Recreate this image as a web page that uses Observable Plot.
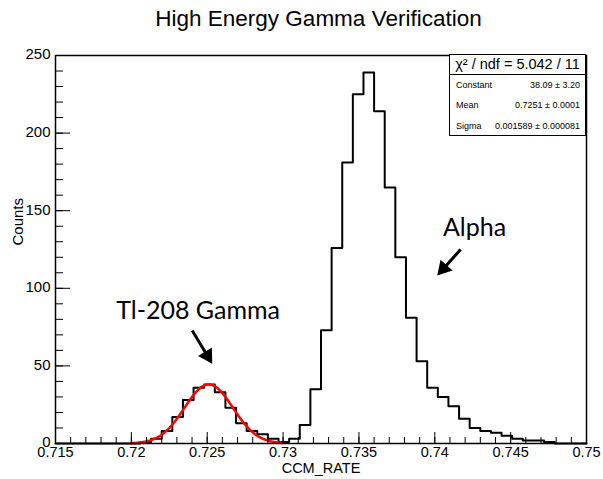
<!DOCTYPE html>
<html><head><meta charset="utf-8">
<script src="https://cdn.jsdelivr.net/npm/d3@7"></script>
<script src="https://cdn.jsdelivr.net/npm/@observablehq/plot@0.6"></script>
<style>
body{margin:0;background:#fff;}
#wrap{position:relative;width:603px;height:479px;font-family:"Liberation Sans",Arial,Helvetica,sans-serif;color:#000;overflow:hidden;}
#title{box-sizing:border-box;width:603px;height:40px;padding-top:8px;padding-left:34px;text-align:center;font-size:22.5px;line-height:22px;}
#chart svg{display:block;}
#stats{position:absolute;left:449px;top:54px;width:137px;height:82px;box-sizing:border-box;border:1px solid #000;background:#fff;}
#stats .head{height:19px;line-height:19px;border-bottom:1px solid #000;text-align:center;font-size:14.5px;}
#stats .row{display:flex;justify-content:space-between;height:20.3px;line-height:20.3px;font-size:9px;padding:0 5px 0 6px;}
</style></head><body>
<div id="wrap">
  <div id="title"></div>
  <div id="chart"></div>
  <div id="stats"></div>
</div>
<script>
// ---- data ----
const titleText = "High Energy Gamma Verification";
const xLabel = "CCM_RATE";
const yLabel = "Counts";
const binLow = 0.715;
const binWidth = 0.0007;
const counts = [
  0, 0, 0, 0, 0, 0, 0, 0, 1, 3,
  8, 17, 28, 36, 38, 33, 23, 13, 8, 6,
  3, 1, 3, 12, 35, 73, 126, 181, 225, 239,
  214, 165, 120, 81, 53, 36, 30, 24, 16, 10,
  8, 7, 5, 3, 2, 2, 1, 0, 0, 0
];
const fitConstant = 38.09;
const fitMean = 0.7251;
const fitSigma = 0.001589;
const fitRange = [0.72, 0.73];
const xDomain = [0.715, 0.75];
const yDomain = [0, 250];
const xMajorTicks = [0.715, 0.72, 0.725, 0.73, 0.735, 0.74, 0.745, 0.75];
const yMajorTicks = [0, 50, 100, 150, 200, 250];
const xMinorTicks = d3.range(0.715, 0.7505, 0.001);
const yMinorTicks = d3.range(0, 251, 10);
const statsHead = "χ² / ndf = 5.042 / 11";
const statsLabels = ["Constant", "Mean", "Sigma"];
const statsValues = ["38.09 ± 3.20", "0.7251 ± 0.0001", "0.001589 ± 0.000081"];
const annotationTexts = [
  {text: "Tl-208 Gamma", x: 0.7244, y: 80.5},
  {text: "Alpha", x: 0.74262, y: 134}
];
const annotationArrows = [
  {x1: 0.72401, y1: 72.8, x2: 0.72533, y2: 51.4},
  {x1: 0.74170, y1: 125, x2: 0.74016, y2: 108.2}
];

// ---- layout ----
const W = 603, H = 439, mL = 55, mR = 17, mT = 15, mB = 36;
const innerW = W - mL - mR, innerH = H - mT - mB;
const headR = 6;

// ---- derived tables ----
const histData = counts.map((c, i) => ({x: binLow + i * binWidth, y: c}));
histData.push({x: binLow + counts.length * binWidth, y: counts[counts.length - 1]});
const fitData = d3.range(0, 201).map(k => {
  const x = fitRange[0] + (fitRange[1] - fitRange[0]) * k / 200;
  return {x, y: fitConstant * Math.exp(-0.5 * ((x - fitMean) / fitSigma) ** 2)};
});
const kx = innerW / (xDomain[1] - xDomain[0]);
const ky = innerH / (yDomain[1] - yDomain[0]);
const arrowHeads = annotationArrows.map(a => {
  const px = (a.x2 - a.x1) * kx, py = -(a.y2 - a.y1) * ky;
  const len = Math.hypot(px, py);
  const ux = px / len, uy = py / len;
  const off = 1.555 * headR;
  return {
    ...a,
    cx: a.x2 - ux * off / kx,
    cy: a.y2 + uy * off / ky,
    angle: Math.atan2(ux, -uy) * 180 / Math.PI
  };
});

document.getElementById("title").textContent = titleText;

const chart = Plot.plot({
  width: W, height: H,
  marginLeft: mL, marginRight: mR, marginTop: mT, marginBottom: mB,
  style: {fontFamily: '"Liberation Sans", Arial, Helvetica, sans-serif', fontSize: "15px", color: "#000", background: "#fff"},
  x: {domain: xDomain},
  y: {domain: yDomain},
  marks: [
    Plot.line(histData, {x: "x", y: "y", curve: "step-after", stroke: "#000", strokeWidth: 2}),
    Plot.line(fitData, {x: "x", y: "y", stroke: "#ff0000", strokeWidth: 2.5}),
    Plot.tickX(xMinorTicks, {x: d => d, insetTop: innerH - 6, stroke: "#000", strokeWidth: 1}),
    Plot.tickX(xMajorTicks, {x: d => d, insetTop: innerH - 11, stroke: "#000", strokeWidth: 1}),
    Plot.tickY(yMinorTicks, {y: d => d, insetRight: innerW - 8, stroke: "#000", strokeWidth: 1}),
    Plot.tickY(yMajorTicks, {y: d => d, insetRight: innerW - 15, stroke: "#000", strokeWidth: 1}),
    Plot.frame({stroke: "#000", strokeWidth: 1.5}),
    Plot.axisX({ticks: xMajorTicks, tickSize: 0, tickPadding: 3, tickFormat: d => String(d), fontSize: 14.5, label: null}),
    Plot.axisY({ticks: yMajorTicks, tickSize: 0, tickPadding: 5, tickFormat: d => String(d), fontSize: 15, label: null, dy: -1}),
    Plot.text([xLabel], {frameAnchor: "bottom", dy: 29, fontSize: 14.5}),
    Plot.text([yLabel], {frameAnchor: "left", rotate: -90, dx: -37, dy: -4, fontSize: 15}),
    Plot.text(annotationTexts, {x: "x", y: "y", text: "text", lineAnchor: "bottom", fontSize: 25, fontFamily: "Lato, 'Open Sans', sans-serif", fill: "#000"}),
    Plot.link(arrowHeads, {x1: "x1", y1: "y1", x2: "cx", y2: "cy", stroke: "#000", strokeWidth: 3}),
    Plot.dot(arrowHeads, {x: "cx", y: "cy", symbol: "triangle", r: headR, rotate: "angle", fill: "#000", stroke: "none"})
  ]
});
document.getElementById("chart").appendChild(chart);

const stats = document.getElementById("stats");
const head = document.createElement("div");
head.className = "head";
head.textContent = statsHead;
stats.appendChild(head);
statsLabels.forEach((lab, i) => {
  const row = document.createElement("div");
  row.className = "row";
  const a = document.createElement("span"); a.textContent = lab;
  const b = document.createElement("span"); b.textContent = statsValues[i];
  row.appendChild(a); row.appendChild(b);
  stats.appendChild(row);
});
</script>
</body></html>
